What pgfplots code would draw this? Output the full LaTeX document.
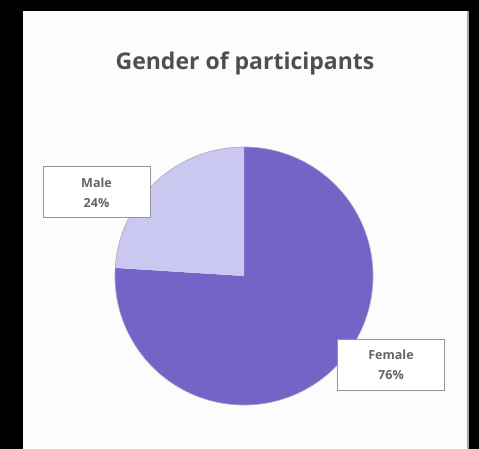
\documentclass[border=0pt]{standalone}
\usepackage{pgfplots}
\pgfplotsset{compat=1.18}
\usepackage{pgfplotstable}
\usepackage{fontspec}
\setmainfont{Open Sans}
\definecolor{female}{RGB}{118,99,200}
\definecolor{male}{RGB}{202,200,240}
\definecolor{panel}{RGB}{253,251,251}
\definecolor{titlegray}{RGB}{78,78,84}
\definecolor{labelgray}{RGB}{100,100,104}
\definecolor{boxgray}{RGB}{150,150,150}
\definecolor{rimgray}{RGB}{170,166,200}

\pgfplotstableread{
label share
Male 24
Female 76
}\piedata

\begin{document}
\begin{tikzpicture}
\pgfplotstablegetelem{0}{share}\of\piedata \pgfmathsetmacro\sharem{\pgfplotsretval}
\pgfplotstablegetelem{1}{share}\of\piedata \pgfmathsetmacro\sharef{\pgfplotsretval}
\pgfmathsetmacro\am{90+360*\sharem/(\sharem+\sharef)}
\begin{axis}[
  scale only axis, width=479pt, height=449pt,
  xmin=0, xmax=479, ymin=0, ymax=449,
  hide axis, clip=false,
]
\fill[black] (axis cs:0,0) rectangle (axis cs:479,449);
\fill[panel] (axis cs:23,0) rectangle (axis cs:467,438);
\fill[gray!70] (axis cs:467,0) rectangle (axis cs:469,438);

\fill[female] (axis cs:244,173) -- +(\am:129pt) arc[start angle=\am, end angle=450, radius=129pt] -- cycle;
\fill[male] (axis cs:244,173) -- +(90:129pt) arc[start angle=90, end angle=\am, radius=129pt] -- cycle;
\draw[rimgray, line width=0.6pt] (axis cs:244,173) circle[radius=129pt];

\node[font=\bfseries\fontsize{23}{27}\selectfont, text=titlegray] at (axis cs:245,386) {Gender of participants};

\node[draw=boxgray, fill=white, line width=1pt, minimum width=107pt, minimum height=51pt, align=center, inner sep=0pt,
  font=\bfseries\fontsize{12.5}{20}\selectfont, text=labelgray] at (axis cs:96.5,256.5) {Male\\24\%};
\node[draw=boxgray, fill=white, line width=1pt, minimum width=107pt, minimum height=51pt, align=center, inner sep=0pt,
  font=\bfseries\fontsize{12.5}{20}\selectfont, text=labelgray] at (axis cs:391,84) {Female\\76\%};
\end{axis}
\end{tikzpicture}
\end{document}
